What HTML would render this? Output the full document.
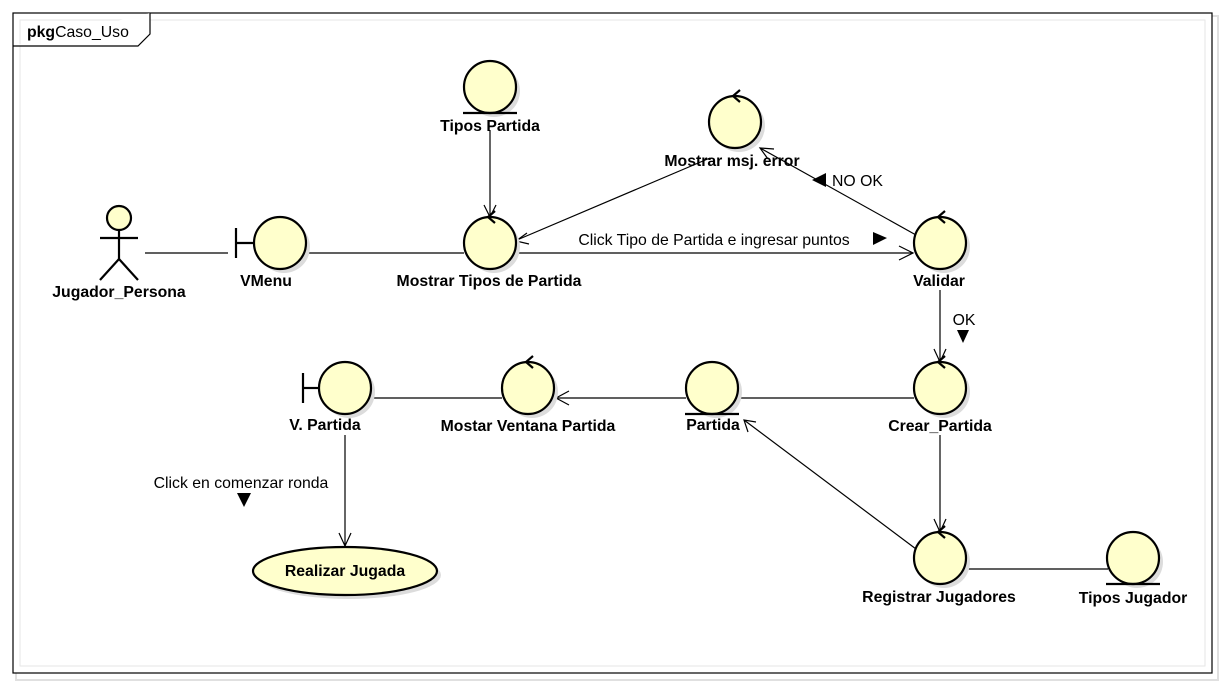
<!DOCTYPE html>
<html><head><meta charset="utf-8"><style>
html,body{margin:0;padding:0;background:#fff;}
svg{display:block;}
text{font-family:"Liberation Sans",Arial,sans-serif;font-size:15.8px;fill:#000;}
.b{font-weight:bold;}
</style></head><body>
<svg width="1222" height="685" viewBox="0 0 1222 685" xmlns="http://www.w3.org/2000/svg">
<rect x="16" y="16" width="1202" height="664" fill="none" stroke="#e0e0e0" stroke-width="2"/>
<rect x="13" y="13" width="1199" height="660" fill="#fff" stroke="#000" stroke-width="1.2"/>
<rect x="20" y="20" width="1185" height="646" fill="none" stroke="#e6e6e6" stroke-width="1"/>
<path d="M13,46 H138 L150,34 V13" fill="#fff" stroke="#000" stroke-width="1.2"/>
<text x="27" y="37"><tspan class="b">pkg</tspan>Caso_Uso</text>

<g stroke="#000" stroke-width="1.2" fill="none">
<line x1="145" y1="253" x2="228" y2="253"/>
<line x1="306" y1="253" x2="464" y2="253"/>
<line x1="490" y1="130" x2="490" y2="216"/>
<path d="M484,205 L490,217 L496,205"/>
<line x1="710" y1="158" x2="517" y2="240"/>
<path d="M527,233 L516,241 L529,244"/>
<line x1="516" y1="253" x2="913" y2="253"/>
<path d="M899,246 L913,253 L899,260"/>
<line x1="916" y1="235" x2="760" y2="148"/>
<path d="M774,149 L760,148 L768,159"/>
<line x1="940" y1="290" x2="940" y2="362"/>
<path d="M934,349 L940,362 L946,349"/>
<line x1="371" y1="398" x2="502" y2="398"/>
<line x1="686" y1="398" x2="556" y2="398"/>
<path d="M569,391 L556,398 L569,405"/>
<line x1="738" y1="398" x2="914" y2="398"/>
<line x1="940" y1="435" x2="940" y2="532"/>
<path d="M934,519 L940,532 L946,519"/>
<line x1="916" y1="549" x2="744" y2="420"/>
<path d="M748,432 L744,420 L756,422"/>
<line x1="966" y1="569" x2="1108" y2="569"/>
<line x1="345" y1="435" x2="345" y2="546"/>
<path d="M339,533 L345,546 L351,533"/>
</g>

<g fill="#dcdcdc">
<circle cx="494" cy="91" r="26"/><circle cx="739" cy="126" r="26"/>
<circle cx="284" cy="247" r="26"/><circle cx="494" cy="247" r="26"/><circle cx="944" cy="247" r="26"/>
<circle cx="349" cy="392" r="26"/><circle cx="532" cy="392" r="26"/><circle cx="716" cy="392" r="26"/><circle cx="944" cy="392" r="26"/>
<circle cx="944" cy="562" r="26"/><circle cx="1137" cy="562" r="26"/>
<ellipse cx="349" cy="575" rx="92" ry="24"/>
</g>

<g fill="#ffffcc" stroke="#000" stroke-width="2.2">
<circle cx="490" cy="87" r="26"/>
<circle cx="712" cy="388" r="26"/>
<circle cx="1133" cy="558" r="26"/>
<circle cx="735" cy="122" r="26"/>
<circle cx="490" cy="243" r="26"/>
<circle cx="940" cy="243" r="26"/>
<circle cx="528" cy="388" r="26"/>
<circle cx="940" cy="388" r="26"/>
<circle cx="940" cy="558" r="26"/>
<circle cx="280" cy="243" r="26"/>
<circle cx="345" cy="388" r="26"/>
<ellipse cx="345" cy="571" rx="92" ry="24"/>
<circle cx="119" cy="218" r="12"/>
</g>
<g stroke="#000" stroke-width="2.2" fill="none">
<line x1="463" y1="113" x2="517" y2="113"/>
<line x1="685" y1="414" x2="739" y2="414"/>
<line x1="1106" y1="584" x2="1160" y2="584"/>
<path d="M740,90 L733,96 L740,102"/>
<path d="M495,211 L488,217 L495,223"/>
<path d="M945,211 L938,217 L945,223"/>
<path d="M533,356 L526,362 L533,368"/>
<path d="M945,356 L938,362 L945,368"/>
<path d="M945,526 L938,532 L945,538"/>
<line x1="236" y1="228" x2="236" y2="258"/><line x1="236" y1="243" x2="254" y2="243"/>
<line x1="303" y1="373" x2="303" y2="403"/><line x1="303" y1="388" x2="319" y2="388"/>
<line x1="119" y1="230" x2="119" y2="259"/>
<line x1="100" y1="238" x2="138" y2="238"/>
<path d="M100,280 L119,259 L138,280"/>
</g>

<polygon points="873,232 873,245 887,238" fill="#000"/>
<polygon points="826,173 826,187 812,180" fill="#000"/>
<polygon points="957,330 969,330 963,343" fill="#000"/>
<polygon points="237,493 251,493 244,507" fill="#000"/>

<text class="b" x="490" y="131" text-anchor="middle">Tipos Partida</text>
<text class="b" x="732" y="166" text-anchor="middle">Mostrar msj. error</text>
<text x="832" y="186" fill="#333">NO OK</text>
<text x="714" y="245" text-anchor="middle">Click Tipo de Partida e ingresar puntos</text>
<text class="b" x="119" y="297" text-anchor="middle">Jugador_Persona</text>
<text class="b" x="266" y="286" text-anchor="middle">VMenu</text>
<text class="b" x="489" y="286" text-anchor="middle">Mostrar Tipos de Partida</text>
<text class="b" x="939" y="286" text-anchor="middle">Validar</text>
<text x="964" y="325" text-anchor="middle" fill="#333">OK</text>
<text class="b" x="325" y="430" text-anchor="middle">V. Partida</text>
<text class="b" x="528" y="431" text-anchor="middle">Mostar Ventana Partida</text>
<text class="b" x="713" y="430" text-anchor="middle">Partida</text>
<text class="b" x="940" y="431" text-anchor="middle">Crear_Partida</text>
<text x="241" y="488" text-anchor="middle">Click en comenzar ronda</text>
<text class="b" x="345" y="576" text-anchor="middle">Realizar Jugada</text>
<text class="b" x="939" y="602" text-anchor="middle">Registrar Jugadores</text>
<text class="b" x="1133" y="603" text-anchor="middle">Tipos Jugador</text>
</svg>
</body></html>
